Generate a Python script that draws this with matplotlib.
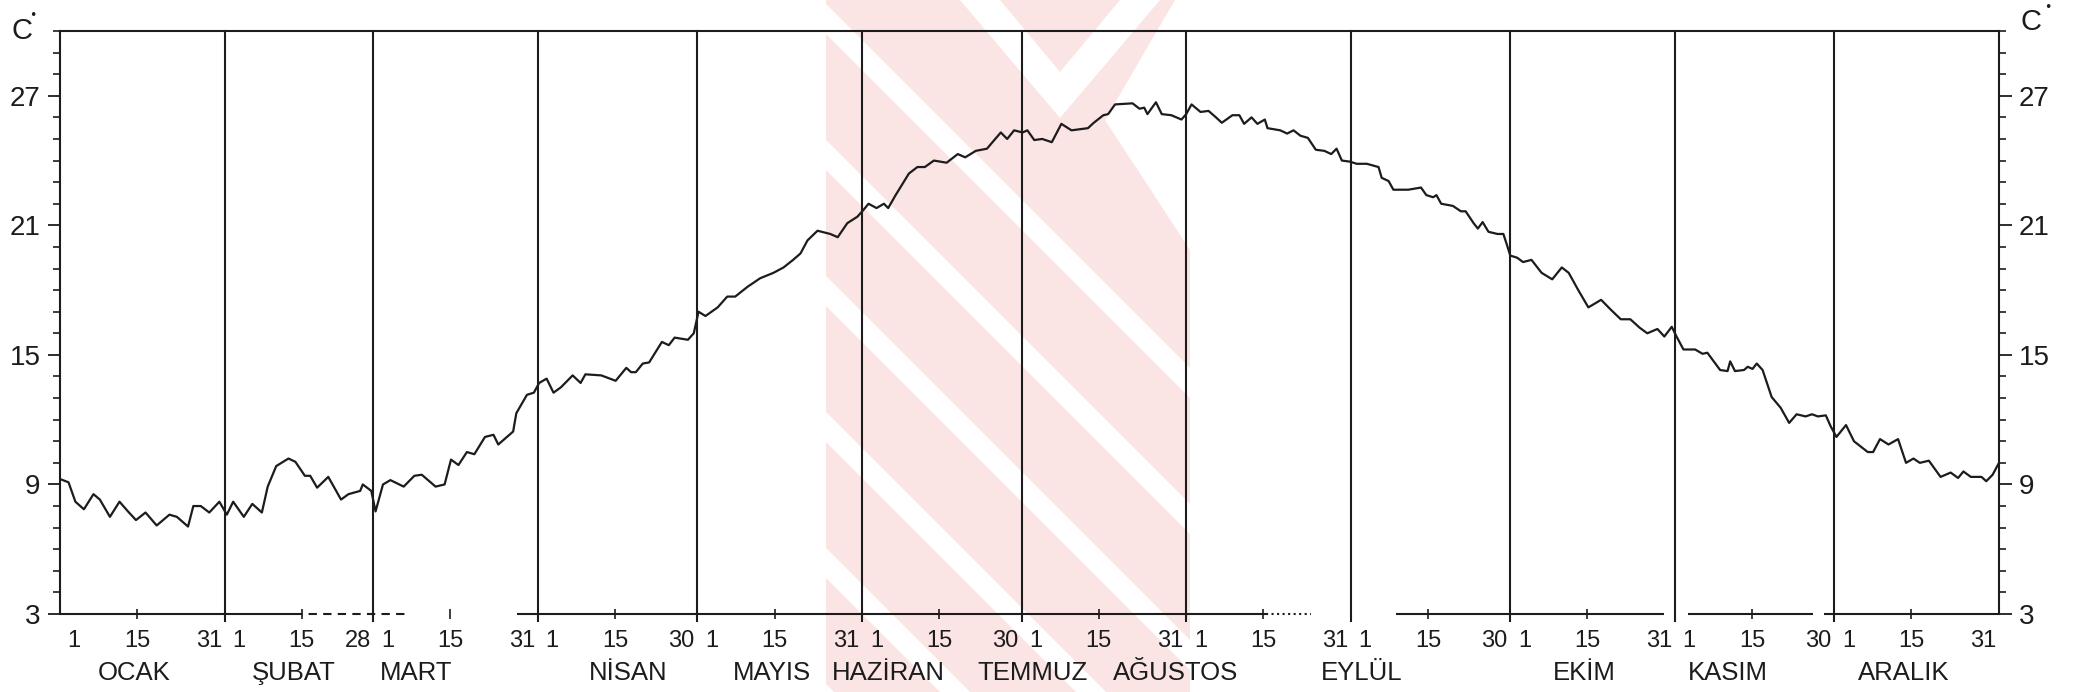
import numpy as np
import matplotlib
matplotlib.use("Agg")
import matplotlib.pyplot as plt
from matplotlib import font_manager
from matplotlib.transforms import blended_transform_factory
from matplotlib.patches import Polygon

# Daily mean temperature curve: position in the year (days from 1 January) and value in °C
day = [
    0.0, 1.6, 2.9, 4.5, 6.3, 7.5, 9.4, 11.2, 12.8, 14.3, 16.1, 18.2, 20.6, 22.0, 24.1, 25.1, 26.5, 28.1, 30.0,
    31.4, 32.6, 34.6, 36.2, 38.0, 39.1, 40.7, 43.0, 44.3, 46.1, 47.1, 48.4, 50.5, 52.9, 54.3, 56.5, 57.0, 58.6,
    59.4, 60.8, 62.2, 64.7, 66.7, 68.1, 70.7, 72.4, 73.6, 75.0, 76.6, 78.0, 80.0, 81.6, 82.5, 85.3, 85.9, 87.9, 89.2,
    90.2, 91.6, 92.9, 94.3, 96.5, 98.0, 98.9, 101.9, 104.6, 106.6, 107.5, 108.4, 109.7, 110.9, 113.3, 114.6, 115.7, 118.2, 119.3,
    120.2, 121.5, 123.8, 125.6, 127.1, 129.4, 131.8, 134.3, 136.2, 138.0, 139.4, 140.7, 142.6, 145.0, 146.4, 148.2, 150.1,
    151.2, 152.2, 153.7, 155.1, 155.9, 157.3, 159.8, 161.4, 162.8, 164.5, 166.9, 169.0, 170.4, 172.4, 174.5, 175.7, 177.1, 178.3, 179.6,
    181.2, 182.1, 183.4, 184.9, 186.7, 188.5, 190.4, 193.5, 194.6, 196.4, 197.3, 198.6, 201.9, 203.2, 204.1, 204.7, 206.3, 207.4, 209.2, 211.1,
    212.0, 213.0, 214.7, 216.2, 217.6, 218.7, 220.7, 222.0, 222.9, 224.3, 225.4, 226.8, 227.3, 229.7, 231.0, 232.2, 233.5, 234.9, 236.4, 238.0, 239.3, 240.3, 241.3, 242.8,
    244.1, 246.0, 248.2, 248.8, 250.1, 251.0, 253.8, 256.2, 257.2, 258.5, 259.1, 260.0, 262.2, 263.7, 264.6, 266.1, 266.9, 267.8, 268.9, 270.6, 271.7, 272.3,
    273.0, 274.3, 275.4, 277.0, 278.9, 280.9, 282.7, 284.0, 285.8, 287.7, 290.1, 291.9, 293.8, 295.6, 297.4, 298.8, 300.7, 302.0, 303.4,
    304.3, 305.6, 307.8, 309.2, 310.1, 312.5, 313.9, 314.4, 315.3, 317.0, 317.7, 318.6, 319.4, 320.5, 322.2, 323.9, 325.5, 326.9, 328.6, 329.8, 330.9, 332.4, 333.3,
    334.4, 336.2, 337.7, 340.3, 341.3, 342.6, 344.2, 346.0, 347.5, 348.9, 350.1, 351.8, 354.0, 355.9, 357.3, 358.3, 359.7, 361.7, 362.6, 363.8, 365.0,
]
temp = [
    9.25, 9.1, 8.2, 7.85, 8.55, 8.3, 7.5, 8.2, 7.75, 7.35, 7.7, 7.1, 7.6, 7.5, 7.05, 8.0, 8.0, 7.7, 8.2,
    7.6, 8.2, 7.5, 8.1, 7.7, 8.9, 9.85, 10.2, 10.05, 9.4, 9.4, 8.85, 9.35, 8.3, 8.55, 8.7, 9.0, 8.7,
    7.75, 9.0, 9.2, 8.9, 9.4, 9.45, 8.9, 9.0, 10.15, 9.9, 10.5, 10.4, 11.2, 11.3, 10.85, 11.45, 12.3, 13.15, 13.25,
    13.7, 13.9, 13.25, 13.5, 14.05, 13.7, 14.1, 14.05, 13.8, 14.4, 14.2, 14.2, 14.6, 14.65, 15.6, 15.45, 15.8, 15.7, 16.0,
    17.0, 16.8, 17.2, 17.7, 17.7, 18.15, 18.55, 18.8, 19.05, 19.4, 19.7, 20.3, 20.75, 20.6, 20.45, 21.1, 21.4,
    21.7, 22.0, 21.8, 22.0, 21.8, 22.4, 23.4, 23.7, 23.7, 24.0, 23.9, 24.3, 24.15, 24.45, 24.55, 24.9, 25.3, 25.0, 25.4,
    25.3, 25.4, 24.95, 25.0, 24.85, 25.7, 25.4, 25.5, 25.75, 26.1, 26.15, 26.6, 26.65, 26.4, 26.45, 26.15, 26.7, 26.15, 26.1, 25.9,
    26.15, 26.6, 26.25, 26.3, 26.0, 25.75, 26.1, 26.1, 25.7, 26.0, 25.7, 25.9, 25.5, 25.4, 25.25, 25.4, 25.15, 25.05, 24.5, 24.45, 24.3, 24.55, 24.0, 23.95,
    23.85, 23.85, 23.7, 23.2, 23.05, 22.65, 22.65, 22.75, 22.4, 22.3, 22.4, 22.0, 21.9, 21.65, 21.65, 21.1, 20.85, 21.15, 20.7, 20.6, 20.6, 20.15,
    19.6, 19.5, 19.3, 19.4, 18.8, 18.5, 19.05, 18.8, 18.0, 17.2, 17.55, 17.1, 16.65, 16.65, 16.25, 16.0, 16.2, 15.85, 16.3,
    15.85, 15.25, 15.25, 15.05, 15.1, 14.3, 14.25, 14.7, 14.25, 14.3, 14.45, 14.35, 14.6, 14.3, 13.05, 12.55, 11.85, 12.25, 12.15, 12.25, 12.15, 12.2, 11.7,
    11.2, 11.75, 11.0, 10.5, 10.5, 11.1, 10.85, 11.1, 10.0, 10.2, 10.0, 10.1, 9.35, 9.55, 9.3, 9.6, 9.35, 9.35, 9.15, 9.45, 10.0,
]

months = ["OCAK", "ŞUBAT", "MART", "NİSAN", "MAYIS", "HAZİRAN",
          "TEMMUZ", "AĞUSTOS", "EYLÜL", "EKİM", "KASIM", "ARALIK"]
month_days = [31, 28, 31, 30, 31, 30, 31, 31, 30, 31, 30, 31]
y_major = [3, 9, 15, 21, 27]
unit = "C"

# where each month name sits along the year (days)
name_pos = [14, 44, 67, 107, 134, 156, 183, 210, 245, 287, 314, 347]

available = {f.name for f in font_manager.fontManager.ttflist}


def pick(*names):
    for n in names:
        if n in available:
            return n
    return "DejaVu Sans"


narrow = pick("Liberation Sans Narrow", "DejaVu Sans Condensed", "Liberation Sans")
wide = pick("Liberation Sans", "DejaVu Sans")

ink = "#1c1c1c"
W, H = 2073, 692
fig = plt.figure(figsize=(W / 100, H / 100), dpi=100)
fig.patch.set_facecolor("white")


def fig_poly(pts, color, z):
    poly = Polygon([(x / W, 1 - y / H) for x, y in pts], closed=True,
                   transform=fig.transFigure, facecolor=color, edgecolor="none", zorder=z)
    fig.add_artist(poly)
    return poly


# pale emblem behind the middle of the chart: a pink field cut by white diagonal bands
pink = "#fbe4e4"
x0, x1 = 826, 1190
field = fig_poly([(x0, 0), (1175, 0), (1105, 120), (x1, 250), (x1, 692), (x0, 692)], pink, -3)
for c in range(4, 700, 136):
    fig_poly([(x0, c), (x1, c + (x1 - x0)), (x1, c + (x1 - x0) + 30), (x0, c + 30)],
             "white", -2).set_clip_path(field)
# white notch near the top
fig_poly([(960, 0), (1000, 0), (1060, 72), (1120, 0), (1160, 0), (1060, 118)],
         "white", -2).set_clip_path(field)

L, R, T, B = 60, 1999, 31, 614
ax = fig.add_axes([L / W, 1 - B / H, (R - L) / W, (B - T) / H])
ax.patch.set_alpha(0)
ax.set_xlim(0, 365)
ax.set_ylim(3, 30)

for s in ax.spines.values():
    s.set_color(ink)
    s.set_linewidth(1.5)
ax.spines["bottom"].set_visible(False)

starts = np.concatenate([[0], np.cumsum(month_days)])
trans = blended_transform_factory(ax.transData, ax.transAxes)

# hand-ruled base line: solid in most places, dashed, dotted or broken in a few
base_runs = [((0, 44), "-"), ((44, 65), (0, (4, 3))), ((86, 227), "-"),
             ((227, 235.5), ":"), ((251.5, 302), "-"), ((306.5, 330), "-"), ((332, 365), "-")]
for (a, b), ls in base_runs:
    ax.plot([a, b], [0, 0], transform=trans, color=ink, lw=1.5, ls=ls,
            clip_on=False, zorder=2, solid_capstyle="butt")

# month separators
for b in starts[1:-1]:
    ax.axvline(b, ymin=-0.012, ymax=1, color=ink, lw=1.5, clip_on=False, zorder=2)

ax.plot(day, temp, color=ink, lw=1.6, zorder=3)

# y axis on both sides
ax.set_yticks(y_major)
ax.set_yticks([v for v in range(3, 31) if v not in y_major], minor=True)
ax.tick_params(axis="y", which="major", direction="out", length=9, width=1.3, color=ink,
               left=True, right=True, labelleft=True, labelright=True,
               labelsize=20, labelcolor=ink, pad=5, labelfontfamily=narrow)
ax.tick_params(axis="y", which="minor", direction="out", length=5, width=1.2, color=ink,
               left=True, right=True)

# x axis: a small tick at the middle of each month, labels as text
ax.set_xticks(starts[:-1] + 14.5)
ax.set_xticklabels([])
ax.tick_params(axis="x", which="major", direction="inout", length=7, width=1.2, color=ink)

lab = dict(xycoords=trans, textcoords="offset points", va="baseline",
           fontsize=17, color=ink, family=narrow)
for s, n, name, npos in zip(starts[:-1], month_days, months, name_pos):
    ax.annotate("1", xy=(s, 0), xytext=(5.5, -24), ha="left", **lab)
    ax.annotate("15", xy=(s + 14.5, 0), xytext=(0, -24), ha="center", **lab)
    ax.annotate(str(n), xy=(s + n, 0), xytext=(-2, -24), ha="right", **lab)
    ax.annotate(name, xy=(npos, 0), xycoords=trans, xytext=(0, -47.5),
                textcoords="offset points", ha="center", va="baseline",
                fontsize=18.5, color=ink, family=wide)

# unit marks at the top of both axes
for cx, cy, dx, dy in [(22, 31, 33, 15), (2031, 22, 2048, 7)]:
    fig.text(cx / W, 1 - cy / H, unit, ha="center", va="center", fontsize=21,
             color=ink, family=narrow)
    fig.text(dx / W, 1 - dy / H, "•", ha="center", va="center", fontsize=9,
             color=ink, family="DejaVu Sans")

fig.savefig("out.png", dpi=100, facecolor="white")
